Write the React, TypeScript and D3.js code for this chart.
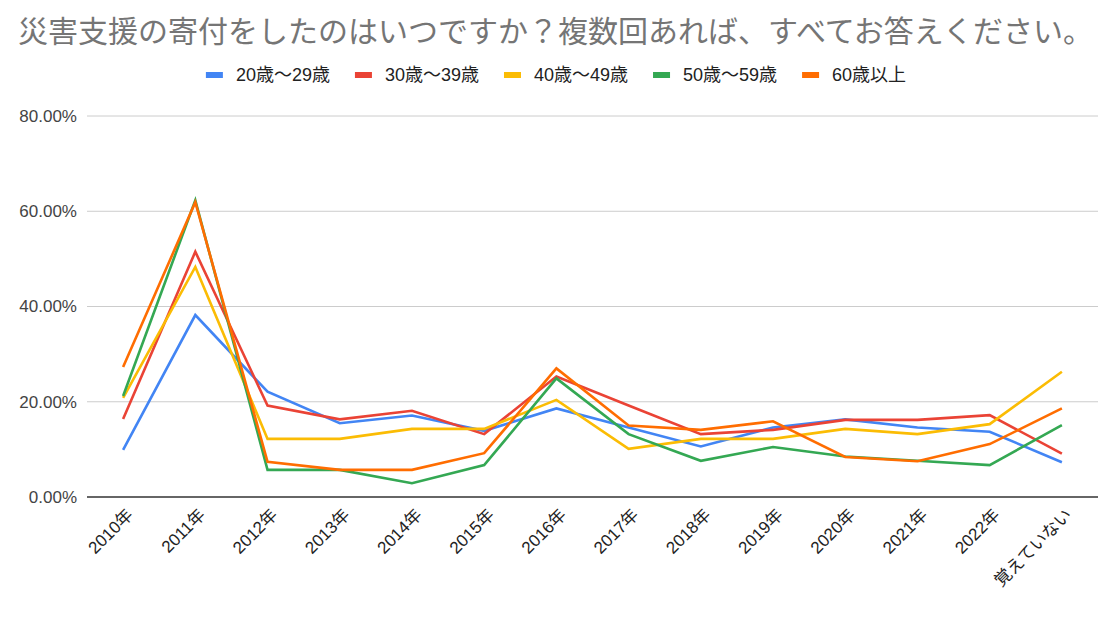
import React, { useEffect, useRef } from 'react';
import * as d3 from 'd3';

const categories = [
  '2010年', '2011年', '2012年', '2013年', '2014年', '2015年', '2016年',
  '2017年', '2018年', '2019年', '2020年', '2021年', '2022年', '覚えていない'
];

const seriesNames = ['20歳～29歳', '30歳～39歳', '40歳～49歳', '50歳～59歳', '60歳以上'];
const seriesColors = ['#4285F4', '#EA4335', '#FBBC04', '#34A853', '#FF6D01'];

// values in percent
const age20 = [9.9, 38.2, 22.1, 15.5, 17.1, 13.9, 18.6, 14.6, 10.6, 14.6, 16.3, 14.6, 13.7, 7.3];
const age30 = [16.4, 51.5, 19.2, 16.3, 18.1, 13.2, 25.3, 19.2, 13.2, 14.1, 16.2, 16.2, 17.2, 9.1];
const age40 = [20.8, 48.3, 12.2, 12.2, 14.3, 14.3, 20.4, 10.1, 12.2, 12.2, 14.3, 13.2, 15.3, 26.3];
const age50 = [21.2, 62.3, 5.7, 5.7, 2.9, 6.7, 24.9, 13.2, 7.6, 10.5, 8.5, 7.6, 6.7, 15.1];
const age60 = [27.3, 61.9, 7.4, 5.7, 5.7, 9.2, 27.0, 15.0, 14.1, 15.9, 8.4, 7.5, 11.1, 18.6];

const yTicks = [0, 20, 40, 60, 80];

const title = '災害支援の寄付をしたのはいつですか？複数回あれば、すべてお答えください。';

const FONT = "Arial, 'Liberation Sans', 'Noto Sans CJK JP', sans-serif";

const App: React.FC = () => {
  const svgRef = useRef<SVGSVGElement>(null);
  const width = 1108;
  const height = 617;

  useEffect(() => {
    if (!svgRef.current) return;
    const svg = d3.select(svgRef.current);
    svg.selectAll('*').remove();

    const margin = { top: 116, right: 10, bottom: 120, left: 87 };
    const series = [age20, age30, age40, age50, age60];

    const x = d3.scaleBand()
      .domain(categories)
      .range([margin.left, width - margin.right]);

    const y = d3.scaleLinear()
      .domain([0, 80])
      .range([height - margin.bottom, margin.top]);

    // title
    svg.append('text')
      .attr('x', 18)
      .attr('y', 42)
      .attr('font-family', FONT)
      .attr('font-size', '30px')
      .attr('fill', '#757575')
      .text(title);

    // gridlines + y labels
    yTicks.forEach(t => {
      if (t !== 0) {
        svg.append('line')
          .attr('x1', margin.left)
          .attr('x2', width - margin.right)
          .attr('y1', y(t))
          .attr('y2', y(t))
          .attr('stroke', '#CCCCCC')
          .attr('stroke-width', 1);
      }
      svg.append('text')
        .attr('x', 77)
        .attr('y', y(t))
        .attr('dy', '0.35em')
        .attr('text-anchor', 'end')
        .attr('font-family', FONT)
        .attr('font-size', '17px')
        .attr('fill', '#444444')
        .text(d3.format('.2f')(t) + '%');
    });

    // lines
    const line = d3.line<number>()
      .x((_, i) => (x(categories[i]) as number) + x.bandwidth() / 2)
      .y(d => y(d));

    series.forEach((s, i) => {
      svg.append('path')
        .datum(s)
        .attr('d', line)
        .attr('fill', 'none')
        .attr('stroke', seriesColors[i])
        .attr('stroke-width', 2.6)
        .attr('stroke-linejoin', 'miter');
    });

    // baseline
    svg.append('line')
      .attr('x1', margin.left)
      .attr('x2', width - margin.right)
      .attr('y1', y(0))
      .attr('y2', y(0))
      .attr('stroke', '#333333')
      .attr('stroke-width', 1.5);

    // x labels
    categories.forEach(c => {
      const cx = (x(c) as number) + x.bandwidth() / 2;
      svg.append('text')
        .attr('transform', `translate(${cx + 11},${y(0) + 19}) rotate(-45)`)
        .attr('text-anchor', 'end')
        .attr('font-family', FONT)
        .attr('font-size', '17px')
        .attr('fill', '#222222')
        .text(c);
    });

    // legend, centred
    const legend = svg.append('g');
    let lx = 0;
    seriesNames.forEach((name, i) => {
      const item = legend.append('g').attr('transform', `translate(${lx},0)`);
      item.append('rect')
        .attr('x', 0)
        .attr('y', -3)
        .attr('width', 17)
        .attr('height', 6)
        .attr('fill', seriesColors[i]);
      const t = item.append('text')
        .attr('x', 30)
        .attr('y', 0)
        .attr('dy', '0.35em')
        .attr('font-family', FONT)
        .attr('font-size', '18px')
        .attr('fill', '#222222')
        .text(name);
      const w = (t.node() as SVGTextElement).getComputedTextLength();
      lx += 30 + w + 25;
    });
    const total = lx - 25;
    legend.attr('transform', `translate(${(width - total) / 2 + 2},75)`);
  }, []);

  return (
    <svg
      ref={svgRef}
      width={width}
      height={height}
      style={{ position: 'absolute', left: 0, top: 0, background: '#fff' }}
    />
  );
};

export default App;
